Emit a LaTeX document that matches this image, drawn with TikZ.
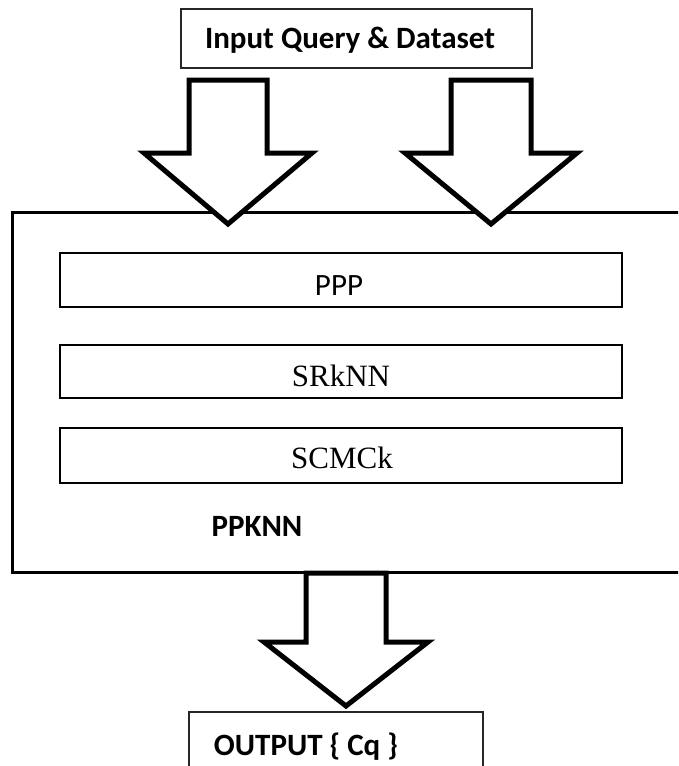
\documentclass[tikz,border=0pt]{standalone}
\usepackage{fontspec}
\newfontfamily\carlito{Carlito}
\newfontfamily\timesrm{Liberation Serif}
\tikzset{
  x=1pt, y=-1pt,
  thinbox/.style={draw=black!85, line width=1.5pt},
  stagebox/.style={draw=black, line width=2.5pt},
  outerline/.style={draw=black, line width=3pt},
  arrowline/.style={draw=black, fill=white, line width=5pt, line join=miter},
  sanslabel/.style={font=\carlito\fontsize{31}{36}\selectfont, anchor=base, inner sep=0pt},
  sansbold/.style={font=\carlito\bfseries\fontsize{31}{36}\selectfont, anchor=base, inner sep=0pt},
  seriflabel/.style={font=\timesrm\fontsize{31}{36}\selectfont, anchor=base, inner sep=0pt},
  % block arrow pointing down: #1 shaft half width, #2 head half width,
  % #3 shaft length, #4 total length
  pics/blockarrow/.style n args={4}{code={
    \draw[arrowline] (-#1,0) -- (#1,0) -- (#1,#3) -- (#2,#3) -- (0,#4)
      -- (-#2,#3) -- (-#1,#3) -- cycle;
  }}
}
\begin{document}
\begin{tikzpicture}
\useasboundingbox (0,0) rectangle (678,766);
\clip (0,0) rectangle (678,766);
\fill[white] (0,0) rectangle (678,766);

% input box
\draw[thinbox] (181,9) rectangle (532,68);
\node[sansbold] (input) at (350,48) {Input Query \& Dataset};

% PPKNN frame, open on the right
\draw[outerline] (690,212) -- (12,212) -- (12,572) -- (690,572);
\coordinate (frameTop) at (345,212);
\coordinate (frameBottom) at (346,572);

% stages inside the frame
\draw[stagebox] (60,253) rectangle (622,307);
\draw[stagebox] (60,345) rectangle (622,398);
\draw[stagebox] (60,428) rectangle (622,483);
\node[sanslabel] (ppp) at (339,295) {PPP};
\node[seriflabel] (srknn) at (341,386) {SRkNN};
\node[seriflabel] (scmck) at (342,468) {SCMCk};
\node[sansbold] (ppknn) at (257,536) {PPKNN};

% block arrows
\pic at (228,80) {blockarrow={39}{84}{73}{144}};
\pic at (491,80) {blockarrow={40}{86}{73}{144}};
\pic at (346,573) {blockarrow={40}{82}{69}{133}};

% output box, running off the bottom
\draw[thinbox] (189,780) -- (189,712) -- (483,712) -- (483,780);
\node[sansbold] (output) at (306,755) {OUTPUT \{ Cq \}};
\end{tikzpicture}
\end{document}
